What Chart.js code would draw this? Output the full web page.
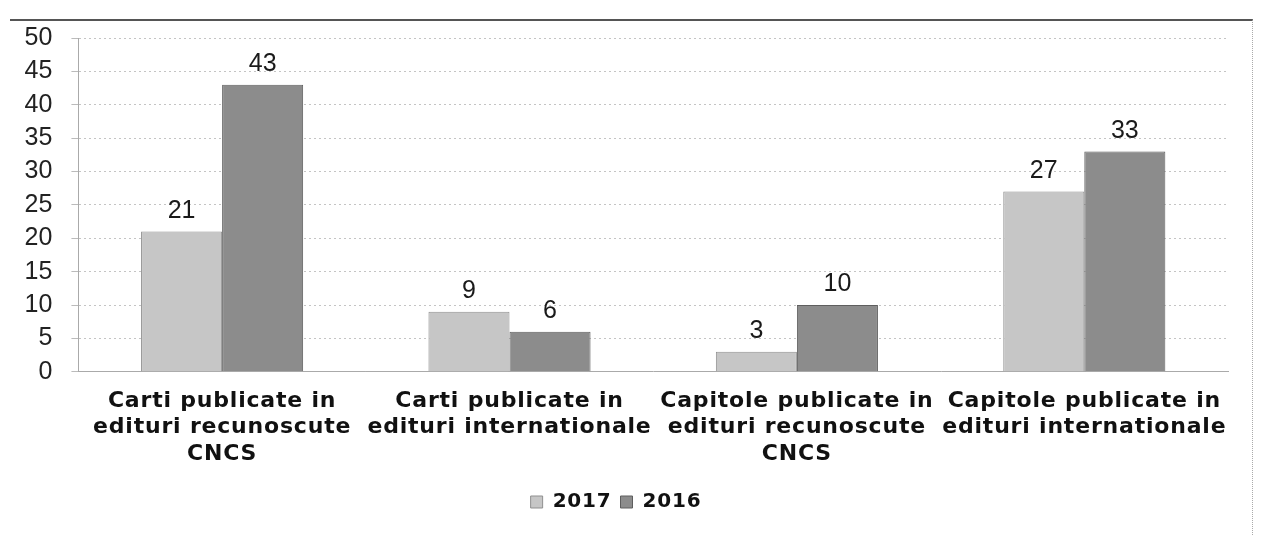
<!DOCTYPE html>
<html>
<head>
<meta charset="utf-8">
<script src="https://cdn.jsdelivr.net/npm/chart.js@4/dist/chart.umd.min.js"></script>
<style>
    html, body { margin: 0; padding: 0; background: #fff; overflow: hidden; }
    #frame {
        position: absolute; left: 10px; top: 19px; width: 1242px; height: 516px;
        border-top: 2px solid #555; border-right: 1px dotted #aaa;
    }
    #chart { position: absolute; left: 0; top: 4px; display: block; }
</style>
</head>
<body>
<div id="frame"></div>
<canvas id="chart" width="1262" height="531"></canvas>
<script>
// categories (multi-line labels) and series
var categories = [
    ['Carti publicate in', 'edituri recunoscute', 'CNCS'],
    ['Carti publicate in', 'edituri internationale'],
    ['Capitole publicate in', 'edituri recunoscute', 'CNCS'],
    ['Capitole publicate in', 'edituri internationale']
];
var values2017 = [21, 9, 3, 27];
var values2016 = [43, 6, 10, 33];
var yTicks = [0, 5, 10, 15, 20, 25, 30, 35, 40, 45, 50];

var FONT = '"Liberation Sans", Arial, sans-serif';
var WIDE_FONT = '"DejaVu Sans", sans-serif';
var WIDE = '0.8px'; // the scanned labels are slightly letter-spaced

// letter spacing for x labels and legend, none for y ticks
var spacing = {
    id: 'spacing',
    beforeLayout(chart) { chart.ctx.letterSpacing = WIDE; },
    beforeDraw(chart) {
        chart.ctx.letterSpacing = WIDE;
        var y = chart.scales.y;
        if (y && !y._wrapped) {
            var orig = y.drawLabels;
            y.drawLabels = function (area) {
                var c = this.ctx;
                c.save();
                c.letterSpacing = '0px';
                orig.call(this, area);
                c.restore();
            };
            y._wrapped = true;
        }
    }
};

// draws the value above each bar
var valueLabels = {
    id: 'valueLabels',
    afterDatasetsDraw(chart) {
        var ctx = chart.ctx;
        ctx.save();
        ctx.letterSpacing = '0px';
        ctx.font = '25px ' + FONT;
        ctx.fillStyle = '#1a1a1a';
        ctx.textAlign = 'center';
        ctx.textBaseline = 'bottom';
        chart.data.datasets.forEach((ds, i) => {
            var meta = chart.getDatasetMeta(i);
            meta.data.forEach((bar, j) => {
                ctx.fillText(ds.data[j], bar.x, bar.y - 8);
            });
        });
        ctx.restore();
    }
};

var ctx = document.getElementById('chart').getContext('2d');
new Chart(ctx, {
    type: 'bar',
    data: {
        labels: categories,
        datasets: [
            { label: '2017', data: values2017, backgroundColor: '#c6c6c6', borderColor: '#8f8f8f', borderWidth: 1 },
            { label: '2016', data: values2016, backgroundColor: '#8c8c8c', borderColor: '#5e5e5e', borderWidth: 1 }
        ]
    },
    options: {
        responsive: false,
        animation: false,
        layout: { padding: { left: 4, right: 34, top: 0, bottom: 13 } },
        datasets: { bar: { categoryPercentage: 0.564, barPercentage: 1.0 } },
        scales: {
            x: {
                grid: { display: false, drawTicks: false },
                border: { color: '#aaa', dash: [2, 2] },
                ticks: {
                    color: '#111',
                    font: { family: WIDE_FONT, size: 22, weight: 'bold', lineHeight: 1.2 },
                    maxRotation: 0, autoSkip: false, padding: 16
                }
            },
            y: {
                min: 0, max: 50,
                afterBuildTicks(axis) { axis.ticks = yTicks.map(v => ({ value: v })); },
                grid: { color: '#c4c4c4', lineWidth: 1, tickLength: 7, tickColor: '#bbb' },
                border: { color: '#aaa', dash: [2, 3] },
                ticks: { color: '#222', font: { family: FONT, size: 25 }, padding: 19, autoSkip: false }
            }
        },
        plugins: {
            legend: {
                position: 'bottom',
                labels: {
                    color: '#111',
                    font: { family: WIDE_FONT, size: 20, weight: 'bold' },
                    boxWidth: 12, boxHeight: 12, padding: 9
                }
            },
            tooltip: { enabled: false }
        }
    },
    plugins: [spacing, valueLabels]
});
</script>
</body>
</html>
